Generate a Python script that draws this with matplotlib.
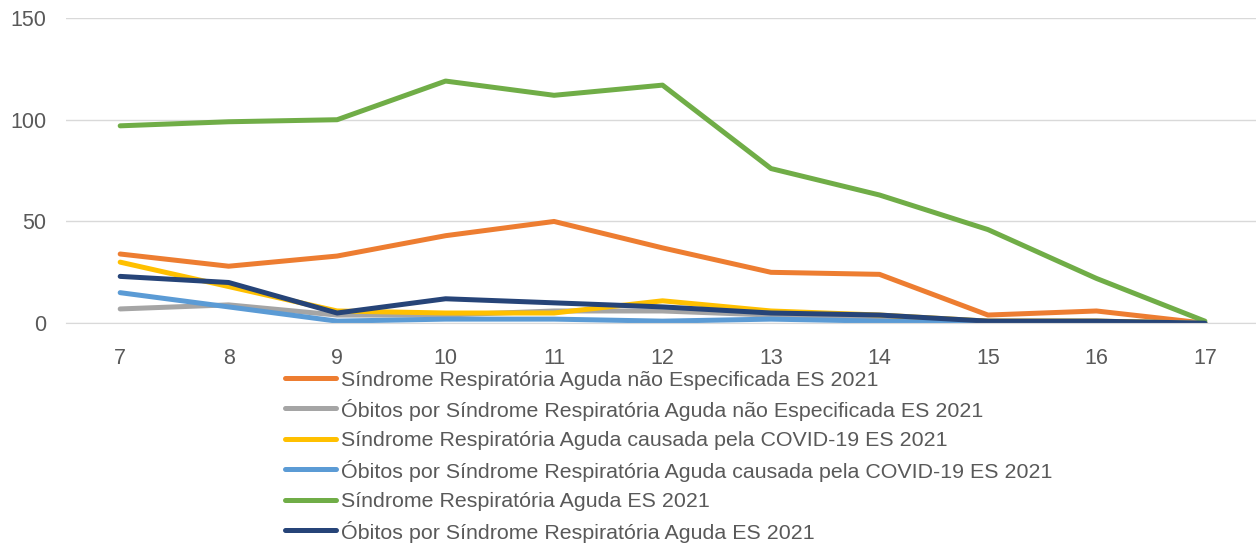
import numpy as np
import matplotlib.pyplot as plt
import matplotlib
from matplotlib.lines import Line2D

matplotlib.rcParams['font.family'] = 'Liberation Sans'

# semanas epidemiologicas
semanas = [7, 8, 9, 10, 11, 12, 13, 14, 15, 16, 17]

srag_nao_esp = [34, 28, 33, 43, 50, 37, 25, 24, 4, 6, 0]
obitos_nao_esp = [7, 9, 4, 4, 6, 6, 4, 3, 1, 1, 0]
srag_covid = [30, 18, 6, 5, 5, 11, 6, 4, 1, 1, 0]
obitos_covid = [15, 8, 1, 2, 2, 1, 2, 1, 0, 0, 0]
srag_total = [97, 99, 100, 119, 112, 117, 76, 63, 46, 22, 1]
obitos_total = [23, 20, 5, 12, 10, 8, 5, 4, 1, 1, 0]

labels = [
    "Síndrome Respiratória Aguda não Especificada ES 2021",
    "Óbitos por Síndrome Respiratória Aguda não Especificada ES 2021",
    "Síndrome Respiratória Aguda causada pela COVID-19 ES 2021",
    "Óbitos por Síndrome Respiratória Aguda causada pela COVID-19 ES 2021",
    "Síndrome Respiratória Aguda ES 2021",
    "Óbitos por Síndrome Respiratória Aguda ES 2021",
]
cores = ['#ED7D31', '#A5A5A5', '#FFC000', '#5B9BD5', '#70AD47', '#264478']

if __name__ == "__main__":
    W, H = 1256, 545
    fig = plt.figure(figsize=(W / 100, H / 100), dpi=100)
    ax = fig.add_axes([0.0525, 0.407, 0.95, 0.56])

    series = [srag_nao_esp, obitos_nao_esp, srag_covid, obitos_covid,
              srag_total, obitos_total]
    for vals, lab, c in zip(series, labels, cores):
        ax.plot(semanas, vals, color=c, lw=3.6, label=lab,
                solid_capstyle='round', solid_joinstyle='round')

    ax.set_xlim(6.5, 17.5)
    ax.set_ylim(0, 150)
    ax.set_yticks([0, 50, 100, 150])
    ax.set_xticks(semanas)
    ax.grid(axis='y', color='#D9D9D9', lw=1)
    ax.set_axisbelow(True)
    for s in ['top', 'right', 'left']:
        ax.spines[s].set_visible(False)
    ax.spines['bottom'].set_color('#D9D9D9')
    ax.tick_params(length=0, labelsize=15.5, colors='#595959')
    ax.tick_params(axis='x', pad=18)
    ax.tick_params(axis='y', pad=14)

    # legenda feita a mao, uma linha por serie (espacamento constante)
    for i, (lab, c) in enumerate(zip(labels, cores)):
        y = 1 - (378 + 30.4 * i) / H
        fig.add_artist(Line2D([285 / W, 336 / W], [y, y], color=c, lw=3.6,
                              solid_capstyle='round',
                              transform=fig.transFigure))
        fig.text(341 / W, y, lab, fontsize=15.4, color='#595959',
                 va='center_baseline', ha='left')

    plt.savefig('out.png', dpi=100)
